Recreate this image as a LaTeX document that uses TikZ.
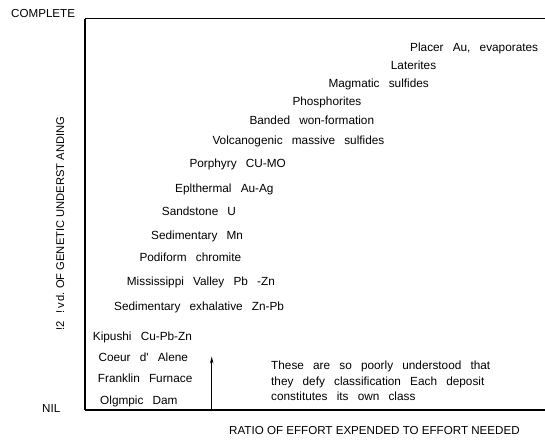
\documentclass[tikz,border=0pt]{standalone}
\usepackage{fontspec}
\setmainfont{Liberation Sans}
\newfontfamily\widefont[WordSpace=2.8]{Liberation Sans}
\usetikzlibrary{arrows.meta}
\begin{document}
\begin{tikzpicture}[x=1pt,y=-1pt,
  lbl/.style={anchor=base west,inner sep=0pt,font=\widefont\fontsize{11.8}{14}\selectfont},
  axlbl/.style={anchor=base west,inner sep=0pt,font=\fontsize{11.6}{13}\selectfont},
  axisline/.style={draw=black,line width=1.5pt},
  frameline/.style={draw=black,line width=1.1pt}]
\useasboundingbox (0,0) rectangle (545,439);
% frame corners
\coordinate (tl) at (85,18.5);
\coordinate (tr) at (545,18.5);
\coordinate (bl) at (85,410);
\coordinate (br) at (545,410);
\draw[frameline] (tl) -- (tr);
\draw[frameline] (bl) -- (br);
\draw[axisline] (tl) -- (bl);
% axis labels
\node[axlbl] (complete) at (11,17.5) {COMPLETE};
\node[axlbl] (nil) at (42,412.5) {NIL};
\node[axlbl,rotate=90,font=\fontsize{11.2}{13}\selectfont] (ylab) at (64,314) {!\,v\,d.\ OF GENETIC UNDERST ANDING};
\node[axlbl,rotate=90,font=\fontsize{11.2}{13}\selectfont] (ylab2) at (64,331) {!2};
\node[axlbl] (xlab) at (229,434.5) {RATIO OF EFFORT EXPENDED TO EFFORT NEEDED};
% deposit types
\node[lbl] (placer) at (410,51.3) {Placer Au, evaporates};
\node[lbl] (later) at (390.7,69) {Laterites};
\node[lbl] (magm) at (328.3,87.3) {Magmatic sulfides};
\node[lbl] (phos) at (292.3,105.7) {Phosphorites};
\node[lbl] (band) at (249.3,124) {Banded won-formation};
\node[lbl] (volc) at (212.3,144) {Volcanogenic massive sulfides};
\node[lbl] (porph) at (189.3,167.3) {Porphyry CU-MO};
\node[lbl] (epith) at (175,192.3) {Eplthermal Au-Ag};
\node[lbl] (sand) at (161.7,215) {Sandstone U};
\node[lbl] (sedmn) at (151,239) {Sedimentary Mn};
\node[lbl] (podi) at (139.3,261.3) {Podiform chromite};
\node[lbl] (miss) at (126.7,285) {Mississippi Valley Pb -Zn};
\node[lbl] (sedex) at (114,310) {Sedimentary exhalative Zn-Pb};
\node[lbl] (kip) at (92.7,340.7) {Kipushi Cu-Pb-Zn};
\node[lbl] (coeur) at (98.3,361.3) {Coeur d' Alene};
\node[lbl] (frank) at (97.7,382.3) {Franklin Furnace};
\node[lbl] (olym) at (100,404) {Olgmpic Dam};
% arrow
\coordinate (arrbot) at (211.7,410);
\coordinate (arrtop) at (211.7,356.5);
\draw[line width=0.9pt,-{Stealth[length=7pt,width=3.5pt]}] (arrbot) -- (arrtop);
% note
\node[lbl] (note1) at (271,369) {These are so poorly understood that};
\node[lbl] (note2) at (271,385.7) {they defy classification Each deposit};
\node[lbl] (note3) at (271,400.7) {constitutes its own class};
\end{tikzpicture}
\end{document}
